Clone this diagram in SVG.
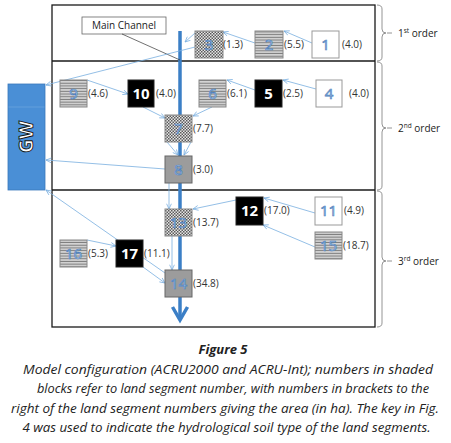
<svg xmlns="http://www.w3.org/2000/svg" width="451" height="443" viewBox="0 0 451 443">
<defs>
<style>
.frame{fill:none;stroke:#1a1a1a;stroke-width:1.3}
.brace{fill:none;stroke:#888;stroke-width:0.9}
.ord{font-family:"Open Sans",sans-serif;font-size:10px;fill:#222}
.sup{font-size:6.5px}
.conn{stroke:#78aee0;stroke-width:0.8;fill:none;marker-end:url(#ah)}
.lbl{font-family:"Open Sans",sans-serif;font-size:10px;fill:#333}
.num{font-family:"Open Sans",sans-serif;font-size:15px;text-anchor:middle;fill:#c4dbf1;stroke:#4f81bd;stroke-width:0.7}
.numb{font-family:"Open Sans",sans-serif;font-size:15px;font-weight:bold;text-anchor:middle;fill:#fff}
.white{fill:#fff;stroke:#999;stroke-width:1}
.black{fill:#000;stroke:#222;stroke-width:1}
.gray{fill:#9c9c9c;stroke:#666;stroke-width:1}
.lines{fill:url(#hl);stroke:#888;stroke-width:1}
.chk{fill:url(#chk);stroke:#888;stroke-width:1}
.cap{font-family:"Open Sans",sans-serif;font-style:italic;font-size:13px;fill:#222;text-anchor:middle}
</style>
<pattern id="chk" width="3" height="3" patternUnits="userSpaceOnUse">
<rect width="3" height="3" fill="#e6e6e6"/>
<rect width="1.5" height="1.5" fill="#5a5a5a"/>
<rect x="1.5" y="1.5" width="1.5" height="1.5" fill="#5a5a5a"/>
</pattern>
<pattern id="hl" width="4" height="2.7" patternUnits="userSpaceOnUse">
<rect width="4" height="2.7" fill="#d4d4d4"/>
<rect y="1.7" width="4" height="1" fill="#7c7c7c"/>
</pattern>
<marker id="ah" viewBox="0 0 8 8" refX="7.5" refY="4" markerWidth="6" markerHeight="6" markerUnits="userSpaceOnUse" orient="auto">
<path d="M0.5,0.8 L7.5,4 L0.5,7.2" fill="none" stroke="#78aee0" stroke-width="1"/>
</marker>
</defs>

<rect width="451" height="443" fill="#fff"/>

<!-- frame -->
<g id="frame">
<rect class="frame" x="52" y="5" width="323" height="322"/>
<line class="frame" x1="52" y1="61" x2="375" y2="61"/>
<line class="frame" x1="52" y1="190" x2="375" y2="190"/>
</g>

<!-- braces and order labels -->
<g id="orders">
<path class="brace" d="M377,5 Q382,5 382,9 L382,29 Q382,33 386,33 Q382,33 382,37 L382,57 Q382,61 377,61"/>
<line class="brace" x1="387" y1="33" x2="392" y2="33"/>
<text class="ord" x="398" y="37">1<tspan class="sup" dy="-4">st</tspan><tspan dy="4"> order</tspan></text>
<path class="brace" d="M377,62 Q382,62 382,66 L382,124 Q382,128 386,128 Q382,128 382,132 L382,186 Q382,190 377,190"/>
<line class="brace" x1="387" y1="128" x2="392" y2="128"/>
<text class="ord" x="398" y="132">2<tspan class="sup" dy="-4">nd</tspan><tspan dy="4"> order</tspan></text>
<path class="brace" d="M377,191 Q382,191 382,195 L382,257 Q382,261 386,261 Q382,261 382,265 L382,323 Q382,327 377,327"/>
<line class="brace" x1="387" y1="261" x2="392" y2="261"/>
<text class="ord" x="398" y="265">3<tspan class="sup" dy="-4">rd</tspan><tspan dy="4"> order</tspan></text>
</g>

<!-- main channel -->
<g id="main-channel">
<line x1="180" y1="31" x2="180" y2="320" stroke="#3b7fc6" stroke-width="3.5"/>
<polyline points="172.5,307 180,320 187.5,307" fill="none" stroke="#3b7fc6" stroke-width="3.5" stroke-linejoin="miter"/>
<rect x="82" y="17" width="84" height="17" fill="#fff" stroke="#666" stroke-width="0.8"/>
<text x="124" y="29" font-family="'Open Sans',sans-serif" font-size="10" fill="#222" text-anchor="middle">Main Channel</text>
<line x1="122" y1="34" x2="180" y2="60" stroke="#333" stroke-width="0.7"/>
</g>

<!-- GW -->
<g id="GW">
<rect x="8" y="84" width="37" height="106" fill="#4a8fd6" stroke="#3a78bb" stroke-width="0.8"/>
<line x1="8.5" y1="107" x2="44.5" y2="107" stroke="#6ea7e0" stroke-width="0.7"/>
<text transform="translate(33,137) rotate(-90)" font-family="'Open Sans',sans-serif" font-size="19" font-weight="bold" fill="#fff" stroke="#111" stroke-width="0.9" text-anchor="middle">GW</text>
</g>

<!-- connectors -->
<g id="connectors">
<line class="conn" x1="312" y1="43" x2="284" y2="31"/>
<line class="conn" x1="255" y1="43" x2="223" y2="32"/>
<line class="conn" x1="195" y1="33" x2="185" y2="42"/>
<line class="conn" x1="195" y1="47" x2="46" y2="85"/>
<line class="conn" x1="316" y1="89" x2="283" y2="80"/>
<line class="conn" x1="255" y1="90" x2="227" y2="80"/>
<line class="conn" x1="212" y1="107" x2="193" y2="116"/>
<line class="conn" x1="87" y1="80" x2="128" y2="94"/>
<line class="conn" x1="143" y1="107" x2="165" y2="118"/>
<line class="conn" x1="167" y1="142" x2="178" y2="155"/>
<line class="conn" x1="191" y1="142" x2="184" y2="155"/>
<line class="conn" x1="165" y1="169" x2="46" y2="160"/>
<line class="conn" x1="169" y1="183" x2="169" y2="209"/>
<line class="conn" x1="236" y1="200" x2="193" y2="209"/>
<line class="conn" x1="315" y1="213" x2="264" y2="198"/>
<line class="conn" x1="315" y1="247" x2="263" y2="225"/>
<line class="conn" x1="172" y1="236" x2="172" y2="270"/>
<line class="conn" x1="87" y1="240" x2="116" y2="246"/>
<line class="conn" x1="143" y1="267" x2="165" y2="283"/>
<line class="conn" x1="165" y1="273" x2="46" y2="190"/>
</g>

<!-- nodes -->
<g id="node-1"><rect class="white" x="312" y="31" width="27" height="27"/><text class="num" x="325.5" y="50">1</text><text class="lbl" x="342" y="48">(4.0)</text></g>
<g id="node-2"><rect class="lines" x="255" y="31" width="28" height="27"/><text class="num" x="269" y="50">2</text><text class="lbl" x="284" y="48">(5.5)</text></g>
<g id="node-3"><rect class="chk" x="195" y="31" width="28" height="27"/><text class="num" x="209" y="50">3</text><text class="lbl" x="223" y="48">(1.3)</text></g>
<g id="node-9"><rect class="lines" x="60" y="80" width="27" height="27"/><text class="num" x="73.5" y="99">9</text><text class="lbl" x="88" y="97">(4.6)</text></g>
<g id="node-10"><rect class="black" x="128" y="80" width="26" height="27"/><text class="numb" x="141" y="99">10</text><text class="lbl" x="156" y="97">(4.0)</text></g>
<g id="node-6"><rect class="lines" x="199" y="80" width="27" height="27"/><text class="num" x="212.5" y="99">6</text><text class="lbl" x="227" y="97">(6.1)</text></g>
<g id="node-5"><rect class="black" x="255" y="80" width="27" height="27"/><text class="numb" x="268.5" y="99">5</text><text class="lbl" x="283" y="97">(2.5)</text></g>
<g id="node-4"><rect class="white" x="316" y="80" width="26" height="27"/><text class="num" x="329" y="99">4</text><text class="lbl" x="349" y="97">(4.0)</text></g>
<g id="node-7"><rect class="chk" x="165" y="115" width="27" height="27"/><text class="num" x="178.5" y="134">7</text><text class="lbl" x="193" y="132">(7.7)</text></g>
<g id="node-8"><rect class="gray" x="165" y="156" width="27" height="27"/><text class="num" x="178.5" y="175">8</text><text class="lbl" x="193" y="173">(3.0)</text></g>
<g id="node-13"><rect class="chk" x="165" y="209" width="27" height="27"/><text class="num" x="178.5" y="228">13</text><text class="lbl" x="193" y="226">(13.7)</text></g>
<g id="node-12"><rect class="black" x="236" y="197" width="27" height="28"/><text class="numb" x="249.5" y="216">12</text><text class="lbl" x="264" y="214">(17.0)</text></g>
<g id="node-11"><rect class="white" x="315" y="197" width="27" height="28"/><text class="num" x="328.5" y="216">11</text><text class="lbl" x="344" y="214">(4.9)</text></g>
<g id="node-15"><rect class="lines" x="315" y="232" width="27" height="27"/><text class="num" x="328.5" y="251">15</text><text class="lbl" x="343" y="249">(18.7)</text></g>
<g id="node-16"><rect class="lines" x="60" y="240" width="27" height="27"/><text class="num" x="73.5" y="259">16</text><text class="lbl" x="88" y="257">(5.3)</text></g>
<g id="node-17"><rect class="black" x="116" y="240" width="27" height="27"/><text class="numb" x="129.5" y="259">17</text><text class="lbl" x="144" y="257">(11.1)</text></g>
<g id="node-14"><rect class="gray" x="165" y="270" width="27" height="27"/><text class="num" x="178.5" y="289">14</text><text class="lbl" x="193" y="287">(34.8)</text></g>

<!-- caption -->
<g id="caption">
<text class="cap" x="223" y="354" font-weight="bold" font-size="14.5">Figure 5</text>
<text class="cap" x="228" y="374" textLength="410" lengthAdjust="spacingAndGlyphs">Model configuration (ACRU2000 and ACRU-Int); numbers in shaded</text>
<text class="cap" x="233" y="393" textLength="392" lengthAdjust="spacingAndGlyphs">blocks refer to land segment number, with numbers in brackets to the</text>
<text class="cap" x="225" y="413" textLength="428" lengthAdjust="spacingAndGlyphs">right of the land segment numbers giving the area (in ha). The key in Fig.</text>
<text class="cap" x="226.5" y="432" textLength="408" lengthAdjust="spacingAndGlyphs">4 was used to indicate the hydrological soil type of the land segments.</text>
</g>
</svg>
